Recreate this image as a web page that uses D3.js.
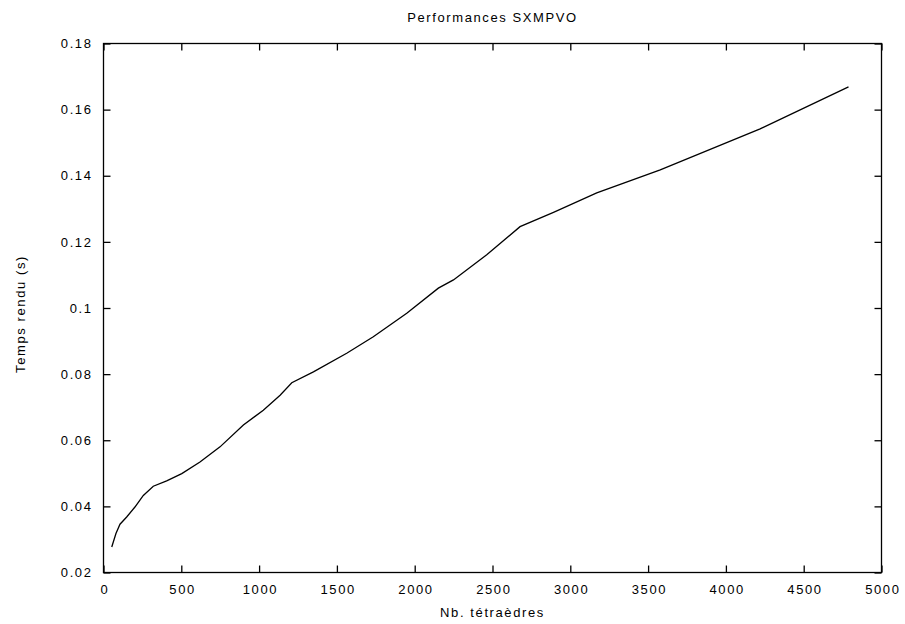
<!DOCTYPE html>
<html>
<head>
<meta charset="utf-8">
<script src="https://cdn.jsdelivr.net/npm/d3@7"></script>
<style>
  html, body { margin: 0; padding: 0; background: #fff; }
  svg { display: block; }
  text { font-family: "Liberation Sans", Arial, sans-serif; fill: #000; }
</style>
</head>
<body>
<svg id="chart" width="905" height="624"></svg>
<script>
// Data
const nbTetra = [53, 80, 106, 149, 202, 256, 320, 406, 503, 620, 749, 899, 1027, 1135, 1210, 1349, 1563, 1734, 1949, 2152, 2249, 2463, 2677, 2892, 3170, 3578, 4220, 4788];
const tempsRendu = [0.0277, 0.0318, 0.0346, 0.0368, 0.0398, 0.0433, 0.0461, 0.0477, 0.0499, 0.0534, 0.0580, 0.0646, 0.0691, 0.0736, 0.0774, 0.0807, 0.0863, 0.0913, 0.0984, 0.1060, 0.1085, 0.1161, 0.1246, 0.1289, 0.1348, 0.1418, 0.1542, 0.1669];
const xTicks = [0, 500, 1000, 1500, 2000, 2500, 3000, 3500, 4000, 4500, 5000];
const yTicks = [0.02, 0.04, 0.06, 0.08, 0.1, 0.12, 0.14, 0.16, 0.18];
const yTickLabels = ["0.02", "0.04", "0.06", "0.08", "0.1", "0.12", "0.14", "0.16", "0.18"];
const chartTitle = "Performances SXMPVO";
const xTitle = "Nb. tétraèdres";
const yTitle = "Temps rendu (s)";

const svg = d3.select("#chart");
const mLeft = 103.5, mRight = 881.5, mTop = 43.5, mBottom = 572.5;
const fontSize = 13, spacing = 1.6;

const x = d3.scaleLinear().domain([0, 5000]).range([mLeft, mRight]);
const y = d3.scaleLinear().domain([0.02, 0.18]).range([mBottom, mTop]);
const tickLen = 7;

const gx = svg.append("g").attr("transform", `translate(0,${mBottom})`)
  .call(d3.axisBottom(x).tickValues(xTicks).tickFormat(d3.format("d")).tickSizeInner(-tickLen).tickSizeOuter(0).tickPadding(12));
const gxt = svg.append("g").attr("transform", `translate(0,${mTop})`)
  .call(d3.axisTop(x).tickValues(xTicks).tickFormat("").tickSizeInner(-tickLen).tickSizeOuter(0));
const gy = svg.append("g").attr("transform", `translate(${mLeft},0)`)
  .call(d3.axisLeft(y).tickValues(yTicks).tickFormat((d, i) => yTickLabels[i]).tickSizeInner(-tickLen).tickSizeOuter(0).tickPadding(11));
const gyr = svg.append("g").attr("transform", `translate(${mRight},0)`)
  .call(d3.axisRight(y).tickValues(yTicks).tickFormat("").tickSizeInner(-tickLen).tickSizeOuter(0));

[gx, gxt, gy, gyr].forEach(g => {
  g.select(".domain").remove();
  g.selectAll(".tick line").attr("stroke", "#000").attr("stroke-width", 1.3);
  g.selectAll(".tick text").attr("font-size", fontSize).attr("fill", "#000")
    .attr("letter-spacing", spacing)
    .style("font-family", "'Liberation Sans', Arial, sans-serif");
});
gx.selectAll(".tick text").attr("dx", spacing / 2);

// Frame
svg.append("rect")
  .attr("x", mLeft).attr("y", mTop)
  .attr("width", mRight - mLeft).attr("height", mBottom - mTop)
  .attr("fill", "none").attr("stroke", "#000").attr("stroke-width", 1.3);

// Line
const pts = nbTetra.map((d, i) => [d, tempsRendu[i]]);
svg.append("path")
  .datum(pts)
  .attr("fill", "none")
  .attr("stroke", "#000")
  .attr("stroke-width", 1.3)
  .attr("d", d3.line().x(d => x(d[0])).y(d => y(d[1])));

// Titles
svg.append("text").attr("x", (mLeft + mRight) / 2).attr("y", 22)
  .attr("text-anchor", "middle").attr("font-size", fontSize).attr("letter-spacing", spacing).text(chartTitle);
svg.append("text").attr("x", (mLeft + mRight) / 2).attr("y", 617)
  .attr("text-anchor", "middle").attr("font-size", fontSize).attr("letter-spacing", spacing).text(xTitle);
svg.append("text")
  .attr("transform", `translate(25,${(mTop + mBottom) / 2 + 6}) rotate(-90)`)
  .attr("text-anchor", "middle").attr("font-size", fontSize).attr("letter-spacing", spacing).text(yTitle);
</script>
</body>
</html>
